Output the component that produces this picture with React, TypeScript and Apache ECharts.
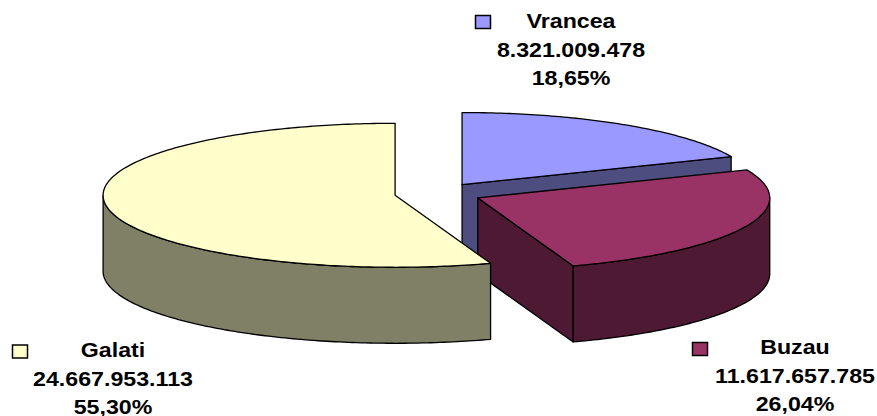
import React, { useEffect, useRef } from "react";
import * as echarts from "echarts";

const categories = ["Vrancea", "Buzau", "Galati"];
const values = [8321009478, 11617657785, 24667953113];
const valueLabels = ["8.321.009.478", "11.617.657.785", "24.667.953.113"];
const percentLabels = ["18,65%", "26,04%", "55,30%"];
const topColors = ["#9999FF", "#993366", "#FFFFCC"];
const sideColors = ["#4D4D80", "#4D1933", "#808066"];

// Layout of the drawing (pixels), separate from the data
const CX = 438;
const CY = 193.5;
const RX = 292;
const RY = 72;
const EXPLODE = 43.5;
const DEPTH = 76;
const TEXT_CENTER_X = [571, 795, 113];
const TEXT_CENTER_Y = [21, 347, 350];
const LINE_GAP = 28.5;
const KEY_X = [475.5, 692.5, 12.5];
const KEY_Y = [15.5, 342.5, 345];
const FONT_SIZE = 21;
const FONT_STRETCH = 1.105;

const total = values.reduce((a, b) => a + b, 0);

function arcPoints(cx: number, cy: number, a0: number, a1: number) {
  const n = Math.max(2, Math.ceil(Math.abs(a1 - a0) / 0.015));
  const pts: number[][] = [];
  for (let i = 0; i <= n; i++) {
    const t = a0 + ((a1 - a0) * i) / n;
    pts.push([cx + RX * Math.sin(t), cy - RY * Math.cos(t)]);
  }
  return pts;
}

function toPath(pts: number[][]) {
  return pts.map((p, i) => (i ? "L" : "M") + p[0].toFixed(2) + " " + p[1].toFixed(2)).join(" ") + " Z";
}

const stroke = { stroke: "#000", lineWidth: 1.3, lineJoin: "round" };

function renderSlice(params: any, api: any) {
  const idx = params.dataIndex;
  let before = 0;
  for (let i = 0; i < idx; i++) before += values[i];
  const a0 = (before / total) * Math.PI * 2;
  const a1 = ((before + api.value(0)) / total) * Math.PI * 2;
  const mid = (a0 + a1) / 2;
  const ox = CX + EXPLODE * Math.sin(mid);
  const oy = CY - (EXPLODE * RY * Math.cos(mid)) / RX;

  const children: any[] = [];
  const pathEl = (d: string, fill: string) => ({
    type: "path",
    shape: { pathData: d },
    style: { fill, ...stroke },
  });

  // cut face that faces the viewer
  if (Math.sin(a1) > 1e-6) {
    const e = arcPoints(ox, oy, a1, a1)[0];
    children.push(
      pathEl(toPath([[ox, oy], e, [e[0], e[1] + DEPTH], [ox, oy + DEPTH]]), sideColors[idx])
    );
  }
  // outer wall, the part in front
  const w0 = Math.max(a0, Math.PI / 2);
  const w1 = Math.min(a1, (Math.PI * 3) / 2);
  if (w1 > w0) {
    const upper = arcPoints(ox, oy, w0, w1);
    const lower = arcPoints(ox, oy + DEPTH, w1, w0);
    children.push(pathEl(toPath(upper.concat(lower)), sideColors[idx]));
  }
  // top face
  children.push(pathEl(toPath([[ox, oy] as number[]].concat(arcPoints(ox, oy, a0, a1))), topColors[idx]));

  // legend key and label
  children.push({
    type: "rect",
    shape: { x: KEY_X[idx], y: KEY_Y[idx], width: 15, height: 13 },
    style: { fill: topColors[idx], stroke: "#000", lineWidth: 1.5 },
  });
  [categories[idx], valueLabels[idx], percentLabels[idx]].forEach((line, i) => {
    children.push({
      type: "text",
      x: TEXT_CENTER_X[idx],
      y: TEXT_CENTER_Y[idx] + i * LINE_GAP,
      scaleX: FONT_STRETCH,
      style: {
        text: line,
        fontFamily: "'Liberation Sans', Arial, sans-serif",
        fontWeight: "bold",
        fontSize: FONT_SIZE,
        fill: "#000",
        align: "center",
        verticalAlign: "middle",
      },
    });
  });
  return { type: "group", children };
}

export default function App() {
  const ref = useRef<HTMLDivElement>(null);
  useEffect(() => {
    const chart = echarts.init(ref.current!, null, { renderer: "svg" });
    chart.setOption({
      animation: false,
      backgroundColor: "#ffffff",
      series: [
        {
          type: "custom",
          coordinateSystem: "none",
          silent: true,
          clip: false,
          renderItem: renderSlice,
          data: values.map((v, i) => ({ name: categories[i], value: [v] })),
        },
      ],
    });
    return () => chart.dispose();
  }, []);
  return <div ref={ref} style={{ position: "fixed", left: 0, top: 0, width: 877, height: 416 }} />;
}
